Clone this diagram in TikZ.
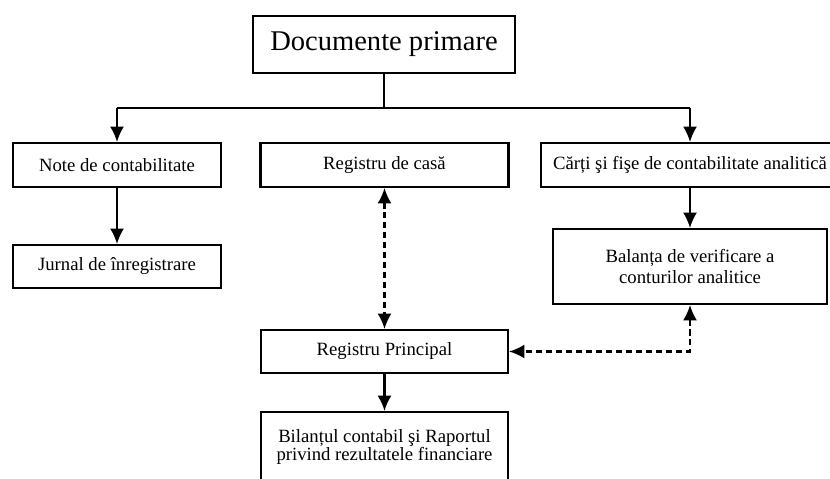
\documentclass[tikz,border=0pt]{standalone}
\usepackage{fontspec}
\setmainfont{Liberation Serif}
\usetikzlibrary{arrows.meta, calc}
\newcommand{\px}{0.025cm}
\newcommand{\busy}{108}
\tikzset{next/.style={-{Latex[length=11pt, width=10pt]}}}
\tikzset{twoway/.style={{Latex[length=11pt, width=10pt]}-{Latex[length=11pt, width=10pt]}, dash pattern=on 4.3pt off 2.8pt}}
\tikzset{docbox/.style={draw, rectangle, inner sep=2pt, align=center, font=\fontsize{13.3}{15.5}\selectfont}}
\tikzset{bigbox/.style={docbox, font=\fontsize{20.3}{24}\selectfont}}

\begin{document}
\begin{tikzpicture}[x=\px, y=-\px, line width=1.45pt]
  \useasboundingbox (0,0) rectangle (830,479);

  % --- top ---
  \node[bigbox, minimum width=262*\px, minimum height=57*\px] (prim) at (384,44.5) {Documente primare};
  \coordinate (busL) at (117,\busy);
  \coordinate (busR) at (690,\busy);

  % --- left column ---
  \node[docbox, minimum width=208*\px, minimum height=44*\px] (note) at (117,165) {Note de contabilitate};
  \node[docbox, minimum width=208*\px, minimum height=43*\px] (jurnal) at (117,266.5) {Jurnal de înregistrare};

  % --- middle column ---
  \node[docbox, minimum width=248*\px, minimum height=44*\px] (casa) at (384.5,165) {Registru de casă};
  \node[docbox, minimum width=247*\px, minimum height=43*\px] (princ) at (384.5,351.5) {Registru Principal};
  \node[docbox, font=\fontsize{13.3}{12.6}\selectfont, minimum width=247*\px, minimum height=70*\px] (bilant) at (384.5,447) {Bilanțul contabil şi Raportul\\privind rezultatele financiare};

  % --- right column ---
  \node[docbox, minimum width=298*\px, minimum height=44*\px] (carti) at (690,165) {Cărți şi fişe de contabilitate analitică};
  \node[docbox, font=\fontsize{13.3}{15.6}\selectfont, minimum width=274*\px, minimum height=75*\px] (balanta) at (690,266.5) {Balanța de verificare a\\conturilor analitice};

  % --- connectors ---
  \draw (prim.south) -- (prim.south |- busL);
  \draw (busL) -- (busR);
  \draw[next] (busL) -- (note.north);
  \draw[next] (busR) -- (carti.north);
  \draw[next] (note) -- (jurnal);
  \draw[next] (carti) -- (balanta);
  \draw[next] (princ) -- (bilant);
  \draw[twoway] (casa) -- (princ);
  \draw[twoway] (balanta.south) |- (princ.east);
\end{tikzpicture}
\end{document}
